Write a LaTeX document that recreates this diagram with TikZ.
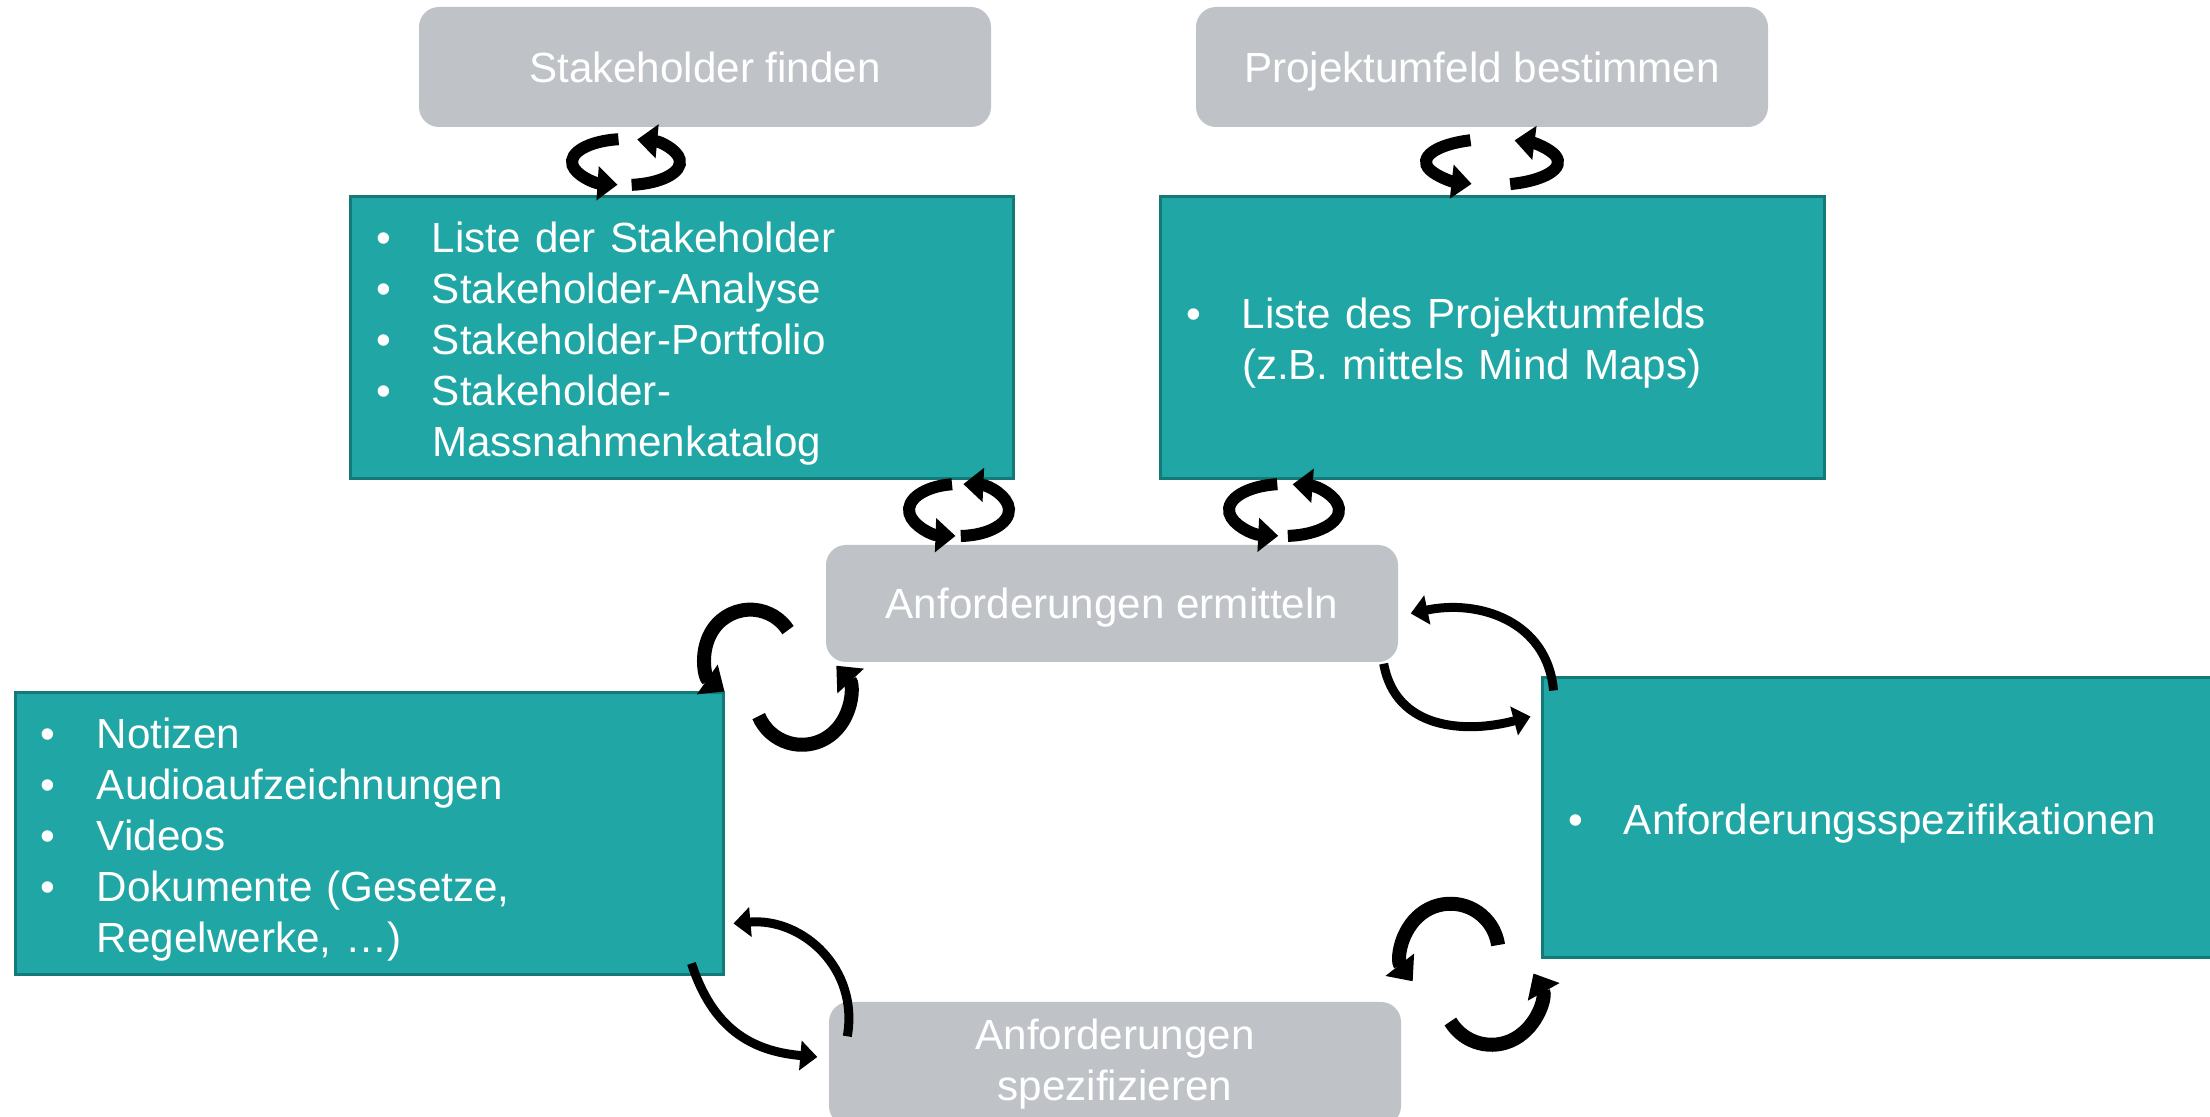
\documentclass[tikz,border=0pt]{standalone}
\usepackage{fontspec}
\setmainfont{Liberation Sans}
\usetikzlibrary{arrows.meta}

\definecolor{tealfill}{RGB}{31,166,165}
\definecolor{tealline}{RGB}{20,122,120}
\definecolor{taskgray}{RGB}{191,195,199}

\newcommand{\bul}{\makebox[0.56cm][l]{\textbullet}}
\newcommand{\ind}{\hspace*{0.56cm}}

\begin{document}
\begin{tikzpicture}[
    every node/.style = {font=\fontsize{12}{14.5}\selectfont, text=white},
    task/.style = {fill=taskgray, rounded corners=0.2cm, minimum width=5.72cm,
                   minimum height=1.2cm, align=center},
    oneline/.style = {text height=0.31cm, text depth=0cm},
    result/.style = {fill=tealfill, draw=tealline, line width=0.03cm,
                     minimum height=2.82cm, inner xsep=0.26cm, align=left,
                     execute at begin node={\rule{0pt}{11.7pt}}},
    cyc/.style = {line width=0.12cm, -{Triangle[length=0.2cm,width=0.33cm]}},
    bigcyc/.style = {line width=0.14cm, {Triangle[length=0.21cm,width=0.35cm]}-},
    flatcyc/.style = {line width=0.09cm, {Triangle[length=0.17cm,width=0.29cm]}-}
]
\path[fill=white, use as bounding box] (0,0) rectangle (22.10,11.17);

% process steps
\node[task, oneline] (finden) at (7.05,10.50) {Stakeholder finden};
\node[task, oneline] (umfeld) at (14.82,10.50) {Projektumfeld bestimmen};
\node[task, oneline, minimum height=1.17cm] (ermitteln) at (11.12,5.135) {Anforderungen ermitteln};
\node[task, minimum height=1.24cm, execute at begin node={\rule{0pt}{13pt}}] (spezifizieren) at (11.15,0.53) {Anforderungen\\spezifizieren};

% results
\node[result, text width=6.11cm] (stakeliste) at (6.815,7.79)
    {\bul Liste der Stakeholder\\
     \bul Stakeholder-Analyse\\
     \bul Stakeholder-Portfolio\\
     \bul Stakeholder-\\
     \ind Massnahmenkatalog};
\node[result, text width=6.12cm] (umfeldliste) at (14.92,7.79)
    {\bul Liste des Projektumfelds\\
     \ind (z.B. mittels Mind Maps)};
\node[result, text width=6.56cm] (ergebnisse) at (3.69,2.83)
    {\bul Notizen\\
     \bul Audioaufzeichnungen\\
     \bul Videos\\
     \bul Dokumente (Gesetze,\\
     \ind Regelwerke, …)};
\node[result, text width=6.18cm, minimum height=2.80cm] (spezliste) at (18.77,2.99)
    {\bul Anforderungsspezifikationen};

% small cycles
\coordinate (cycA) at (6.26,9.55);
\coordinate (cycB) at (14.92,9.55);
\coordinate (cycC) at (9.59,6.07);
\coordinate (cycD) at (12.84,6.07);

\draw[cyc] ([shift={(98:0.54 and 0.23)}]cycA) arc[start angle=98, end angle=261, x radius=0.54, y radius=0.23];
\draw[cyc] ([shift={(276:0.54 and 0.23)}]cycA) arc[start angle=276, end angle=438, x radius=0.54, y radius=0.23];
\draw[cyc] ([shift={(109:0.66 and 0.23)}]cycB) arc[start angle=109, end angle=252, x radius=0.66, y radius=0.23];
\draw[cyc] ([shift={(286:0.66 and 0.23)}]cycB) arc[start angle=286, end angle=430, x radius=0.66, y radius=0.23];
\draw[cyc] ([shift={(98:0.50 and 0.26)}]cycC) arc[start angle=98, end angle=266, x radius=0.50, y radius=0.26];
\draw[cyc] ([shift={(272:0.50 and 0.26)}]cycC) arc[start angle=272, end angle=445, x radius=0.50, y radius=0.26];
\draw[cyc] ([shift={(97:0.55 and 0.26)}]cycD) arc[start angle=97, end angle=264, x radius=0.55, y radius=0.26];
\draw[cyc] ([shift={(274:0.55 and 0.26)}]cycD) arc[start angle=274, end angle=441, x radius=0.55, y radius=0.26];

% big cycles
\draw[bigcyc] (ergebnisse.north east) arc[start angle=235, end angle=33, radius=0.45];
\draw[bigcyc] ([shift={(0.11,-0.03)}]ermitteln.south west) arc[start angle=43, end angle=-157, radius=0.47];
\draw[bigcyc] ([shift={(0.11,0.20)}]spezifizieren.north east) arc[start angle=218, end angle=8, radius=0.48];
\draw[bigcyc] ([shift={(-0.07,-0.14)}]spezliste.south west) arc[start angle=29, end angle=-149, radius=0.48];

% flat cycles
\draw[flatcyc] ([shift={(0.12,-0.10)}]ermitteln.east) to[out=12, in=95, looseness=1.1]
    ([shift={(0.13,-0.14)}]spezliste.north west);
\draw[flatcyc] ([shift={(-0.10,-0.40)}]spezliste.north west) to[out=195, in=-80, looseness=1.1]
    ([shift={(-0.15,-0.01)}]ermitteln.south east);
\draw[flatcyc] ([shift={(0.09,0.53)}]ergebnisse.south east) to[out=5, in=80, looseness=1.1]
    ([shift={(0.19,-0.35)}]spezifizieren.north west);
\draw[flatcyc] ([shift={(-0.11,0.07)}]spezifizieren.west) to[out=175, in=-72, looseness=1.1]
    ([shift={(-0.33,0.13)}]ergebnisse.south east);
\end{tikzpicture}
\end{document}
